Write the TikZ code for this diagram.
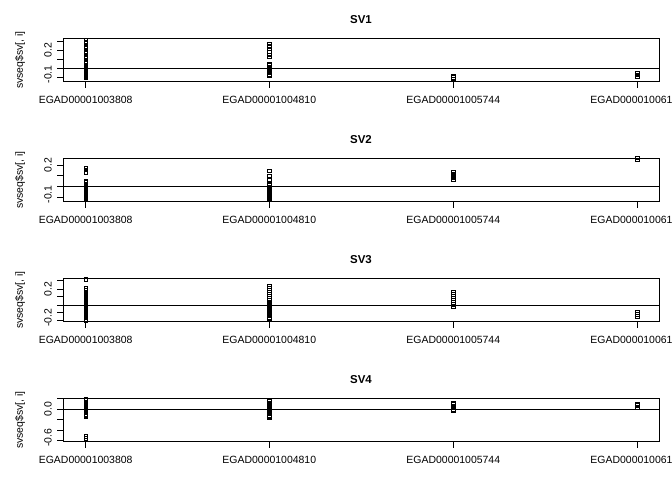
\documentclass[tikz,border=0pt]{standalone}
\usepackage{fontspec}
\setmainfont{Liberation Sans}
\newcommand\sqpts[2]{\foreach \yy in {#2}{\draw[ptline] (#1-1.8,\yy-1.8) rectangle ++(3.6,3.6);}}
\begin{document}
\begin{tikzpicture}[x=1bp,y=-1bp,
  frame/.style={draw=black,line width=0.9bp},
  hline/.style={draw=black,line width=0.9bp},
  tick/.style={draw=black,line width=0.9bp},
  ptline/.style={draw=black,line width=0.6bp},
  lab/.style={inner sep=0pt,font=\fontsize{10.5}{12}\selectfont},
  ttl/.style={inner sep=0pt,font=\fontsize{11.5}{13}\selectfont\bfseries}]
\useasboundingbox (0,0) rectangle (672,480);
\fill[white] (0,0) rectangle (672,480);
% common parts of the four panels
\foreach \o/\t in {0/SV1,120/SV2,240/SV3,360/SV4}{
  \node[ttl] (title\t) at (361,20+\o) {\t};
  \draw[frame] (63,38+\o) rectangle (659,81.7+\o);
  \foreach \x/\g in {85.7/EGAD00001003808,269.3/EGAD00001004810,453.3/EGAD00001005744,637.3/EGAD00001006134}{
    \draw[tick] (\x,81.7+\o) -- (\x,87.7+\o);
    \node[lab] (x\g\t) at (\x,100.3+\o) {\g};
  }
  \node[lab,rotate=90] (ylab\t) at (20,60+\o) {svseq\$sv[, i]};
}
% panel SV1
\foreach \y in {41.3,50.3,59.3,68.3,77.3}{\draw[tick] (63,\y) -- (57,\y);}
\node[lab,rotate=90] (a1) at (48,50.3) {0.2};
\node[lab,rotate=90] (a2) at (48,74.3) {-0.1};
\draw[hline] (63,68.3) -- (659,68.3);
\sqpts{85.7}{40,42.5,45,47.5,50,52.5,55,57.5,60,62,63.5,65,66.5,68,69.5,71,72.5,74,75.5,77,78}
\sqpts{269.3}{44,46.5,49,52,55,57,64,65.5,67,68.5,70,71.5,73,74.5,76}
\sqpts{453.3}{76,77.5,79}
\sqpts{637.3}{73,75,77}
% panel SV2
\foreach \y in {165,175.7,186.7,197.3}{\draw[tick] (63,\y) -- (57,\y);}
\node[lab,rotate=90] (b1) at (48,165) {0.2};
\node[lab,rotate=90] (b2) at (48,194.3) {-0.1};
\draw[hline] (63,186.7) -- (659,186.7);
\sqpts{85.7}{168,170,172.5,181,182.5,184,185.5,187,188.5,190,191.5,193,194.5,196,197.5,199,200}
\sqpts{269.3}{171,176,180,184,185.5,187,188.5,190,191.5,193,194.5,196,197.5,199,200}
\sqpts{453.3}{172,174,176,178,180}
\sqpts{637.3}{158,160}
% panel SV3
\foreach \y in {280.7,289,296.7,305,312.7,320.7}{\draw[tick] (63,\y) -- (57,\y);}
\node[lab,rotate=90] (c1) at (48,289) {0.2};
\node[lab,rotate=90] (c2) at (48,317.7) {-0.2};
\draw[hline] (63,305) -- (659,305);
\sqpts{85.7}{279,288,290,292,293.5,295,296.5,298,299.5,301,302.5,304,305.5,307,308.5,310,311.5,313,314.5,316,317.5,319,320}
\sqpts{269.3}{286,288,290,292,294,296,298,300,302,303.5,305,306.5,308,309.5,311,312.5,314,315.5,317,318}
\sqpts{453.3}{292,294,296,298,300,302,304,306}
\sqpts{637.3}{312,314,316}
% panel SV4
\foreach \y in {398.3,409,419.3,430,440.7}{\draw[tick] (63,\y) -- (57,\y);}
\node[lab,rotate=90] (d1) at (48,409) {0.0};
\node[lab,rotate=90] (d2) at (48,437.7) {-0.6};
\draw[hline] (63,409) -- (659,409);
\sqpts{85.7}{399,400.5,402,403.5,405,406.5,408,409.5,411,412.5,414,415.5,416,436,438.5}
\sqpts{269.3}{400,401.5,403,404.5,406,407.5,409,410.5,412,413.5,415,416.5,417}
\sqpts{453.3}{403,404.5,406,407.5,409,410}
\sqpts{637.3}{404,405.5,407}
\end{tikzpicture}
\end{document}
